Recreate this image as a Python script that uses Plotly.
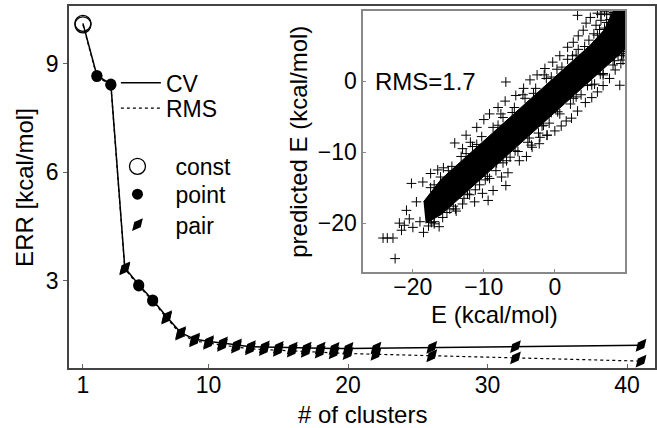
import plotly.graph_objects as go

# main panel: error vs number of clusters
clusters = [1, 2, 3, 4, 5, 6, 7, 8, 9, 10, 11, 12, 13, 14, 15, 16, 17, 18, 19, 20, 22, 26, 32, 41]
kind = ['const', 'point', 'point', 'pair', 'point', 'point'] + ['pair'] * 18
cv = [10.12, 8.68, 8.44, 3.36, 2.89, 2.47, 2.01, 1.57, 1.39, 1.32, 1.28, 1.23,
      1.18, 1.17, 1.16, 1.14, 1.14, 1.14, 1.13, 1.13, 1.14, 1.16, 1.18, 1.22]
rms = [10.08, 8.65, 8.41, 3.33, 2.86, 2.44, 1.97, 1.53, 1.34, 1.27, 1.22, 1.17,
       1.12, 1.10, 1.08, 1.06, 1.05, 1.03, 1.01, 0.99, 0.97, 0.93, 0.87, 0.78]

# inset: predicted vs reference energies (outline of the dense core + scattered points)
core_x = [-18.5, -16.0, -13.0, -10.0, -7.0, -4.0, -1.0, 2.0, 5.0, 7.0, 8.2, 9.9,
          9.9, 8.0, 5.0, 2.0, -1.0, -4.0, -7.0, -10.0, -13.0, -16.0, -18.2]
core_y = [-17.0, -13.8, -11.1, -8.4, -5.7, -3.0, -0.3, 2.4, 5.1, 7.3, 9.9, 9.9,
          4.5, 2.8, 0.1, -2.6, -5.3, -8.0, -10.7, -13.4, -16.1, -18.8, -20.0]
e_ref = [-24.2, -23.6, -22.8, -22.5, -21.6, -21.2, -20.9, -20.5, -21.9, -20.2, -19.5, -20.0,
         -19.0, -18.5, -17.8, -18.6, -17.5, -16.5, -15.7, -14.1, -13.0, -17.0, -16.3, -15.2,
         -14.0, -13.0, -12.0, -11.3, -9.4, -8.7, -6.9, -6.6, -7.5, -10.2, -12.5, -11.0,
         -10.0, -9.2, -8.0, -6.9, -7.0, -5.5, -4.4, -3.5, -2.5, -1.4, -0.3, 0.7, 1.8, 2.6,
         3.3, 4.0, 4.4, 3.2, 5.0, -5.0, -4.0, -3.2, -2.2, -1.1, 0.0, 0.9, 1.6, 2.35, 3.2,
         4.3, 5.2, 6.0, 6.8, 7.7, 8.5, 9.15, 9.6, 9.3, 8.9, 5.6, 6.8, -0.5, -1.8, 3.0,
         6.0, 7.0, 8.3, 9.6, -1.1, -2.1, -3.3, -6.3, -8.2, -9.2,
         -17.0, -17.4, -16.1, -15.8, -14.5, -14.3, -13.9, -13.2, -12.8, -11.6, -11.2, -11.9,
         -10.3, -9.8, -10.6, -8.7, -8.3, -7.3, -6.8, -7.6, -5.7, -5.2, -4.2, -3.8, -4.5,
         -2.7, -2.3, -1.2, -0.8, -1.5, 0.3, 0.7, 1.8, 2.2, 2.5, 3.3, 3.7, 4.8, 5.2, 5.5,
         6.3, 6.8, 7.8, 8.2, 9.4, 9.6,
         -17.5, -15.0, -12.5, -11.0, -8.0, -6.0, -3.0, -0.5, 1.0, 3.0, 4.2, 6.0, 7.0, 7.3,
         6.5, 7.9, 5.8, 6.5, 7.3, -17.0, -14.8, -12.3, -9.5, -7.3, -5.6, -3.6, -1.6, 0.4,
         2.6, 4.6, 6.4, 8.4, 9.7]
e_pred = [-22.1, -22.1, -22.1, -25.0, -21.0, -20.3, -18.2, -19.4, -20.0, -14.4, -17.0, -20.6,
          -19.8, -21.3, -20.4, -14.2, -13.0, -12.5, -12.2, -8.7, -9.5, -19.8, -20.5, -18.5,
          -18.0, -17.3, -16.0, -17.0, -16.8, -15.4, -14.7, -12.9, -13.5, -15.8, -7.6, -6.5,
          -5.4, -4.6, -3.7, -0.1, -2.8, -2.0, -1.0, 0.2, 0.9, 1.8, 2.7, 3.6, 4.8, 5.5,
          6.4, 7.2, 8.2, 9.3, 9.0, -11.2, -10.6, -9.3, -8.8, -7.6, -7.0, -6.3, -5.6, -5.2, -4.2,
          -3.0, -2.3, -1.5, -0.6, 0.4, 1.6, -0.56, 3.0, 2.5, 3.7, -0.4, 1.1, -4.4, -6.3, -2.2,
          9.6, 9.8, 9.7, 8.8, -7.6, -7.9, -9.0, -10.7, -11.5, -13.7,
          -14.6, -19.9, -13.5, -19.2, -12.0, -17.6, -18.3, -10.6, -16.5, -9.2, -15.3, -8.6,
          -7.8, -13.9, -14.6, -6.5, -12.6, -5.1, -11.2, -4.6, -3.7, -9.9, -2.4, -8.6, -1.9,
          -1.0, -7.3, 0.4, -5.9, 0.9, 1.7, -4.6, 3.1, -3.2, 3.6, 4.5, -1.9, 5.8, -0.5, 6.7,
          7.3, 0.9, 8.7, 2.3, 3.6, 4.2,
          -15.0, -12.6, -10.2, -8.9, -6.2, -4.4, -1.7, 0.6, 2.0, 3.7, 4.9, 6.5, 7.5, 8.3,
          8.6, 9.4, 7.9, 9.4, 9.5, -20.1, -18.0, -15.9, -13.4, -11.5, -9.8, -8.0, -6.2, -4.3,
          -2.4, -0.6, 1.0, 2.9, 3.9]

FONT = 'Liberation Sans, Arial, sans-serif'
styles = {
    'const': dict(symbol='circle-open', size=16, color='black', line=dict(width=1.3, color='black')),
    'point': dict(symbol='circle', size=11, color='black'),
    'pair': dict(symbol='diamond-tall', size=12, angle=40, color='black'),
}

fig = go.Figure()
fig.add_trace(go.Scatter(x=clusters, y=cv, mode='lines', name='CV',
                         line=dict(color='black', width=1.5), legend='legend'))
fig.add_trace(go.Scatter(x=clusters, y=rms, mode='lines', name='RMS',
                         line=dict(color='black', width=1.2, dash='dot'), legend='legend2'))
for i, k in enumerate(['const', 'point', 'pair']):
    xs = [c for c, t in zip(clusters, kind) if t == k]
    ys_cv = [v for v, t in zip(cv, kind) if t == k]
    ys_rms = [v for v, t in zip(rms, kind) if t == k]
    fig.add_trace(go.Scatter(x=xs + xs, y=ys_rms + ys_cv, mode='markers', name=k,
                             marker=styles[k], legend=f'legend{i + 3}', cliponaxis=False))

fig.add_trace(go.Scatter(x=core_x, y=core_y, mode='lines', fill='toself', fillcolor='black',
                         line=dict(color='black', width=1), showlegend=False,
                         xaxis='x2', yaxis='y2'))
fig.add_trace(go.Scatter(x=e_ref, y=e_pred, mode='markers', showlegend=False,
                         marker=dict(symbol='cross-thin', size=7, line=dict(width=1, color='black')),
                         xaxis='x2', yaxis='y2'))

fig.add_annotation(x=-25.6, y=0, xref='x2', yref='y2', text='RMS=1.7', showarrow=False,
                   xanchor='left', yanchor='middle', font=dict(size=24, color='black', family=FONT))
# axis titles placed as annotations for exact positioning
fig.add_annotation(x=0.5, y=-0.128, xref='x domain', yref='y domain', text='# of clusters',
                   showarrow=False, xanchor='center', yanchor='middle', font=dict(size=24))
fig.add_annotation(x=-0.077, y=0.5, xref='x domain', yref='y domain', text='ERR [kcal/mol]',
                   showarrow=False, textangle=-90, xanchor='center', yanchor='middle',
                   font=dict(size=24))
fig.add_annotation(x=0.5, y=-0.162, xref='x2 domain', yref='y2 domain', text='E (kcal/mol)',
                   showarrow=False, xanchor='center', yanchor='middle', font=dict(size=24))
fig.add_annotation(x=-0.248, y=0.5, xref='x2 domain', yref='y2 domain', text='predicted E (kcal/mol)',
                   showarrow=False, textangle=-90, xanchor='center', yanchor='middle',
                   font=dict(size=24))

leg = dict(xanchor='left', yanchor='middle', bgcolor='rgba(0,0,0,0)', font=dict(size=23))
fig.update_layout(
    width=657, height=428,
    margin=dict(l=69, r=2, t=6, b=60),
    paper_bgcolor='white', plot_bgcolor='white',
    font=dict(family=FONT, size=23, color='black'),
    xaxis=dict(range=[0, 42], tickvals=[1, 10, 20, 30, 40], ticks='inside', ticklen=4,
               tickcolor='#666', showgrid=False, zeroline=False, showline=True,
               linecolor='#444', linewidth=1.5, mirror=True, automargin=False,
               ticklabelstandoff=-4),
    yaxis=dict(range=[0.59, 10.6], tickvals=[3, 6, 9], ticks='outside', ticklen=4,
               tickcolor='#666', showgrid=False, zeroline=False, showline=True,
               linecolor='#444', linewidth=1.5, mirror=True, automargin=False),
    xaxis2=dict(domain=[0.502, 0.949], anchor='y2', range=[-27, 9.9], tickvals=[-20, -10, 0],
                ticks='inside', ticklen=3, tickcolor='#888', showgrid=False, zeroline=False,
                showline=True, linecolor='#888', linewidth=1.5, mirror=True, automargin=False,
                ticklabelstandoff=-6),
    yaxis2=dict(domain=[0.265, 0.986], anchor='x2', range=[-26.9, 9.9], tickvals=[-20, -10, 0],
                ticks='inside', ticklen=3, tickcolor='#888', showgrid=False, zeroline=False,
                showline=True, linecolor='#888', linewidth=1.5, mirror=True, automargin=False),
    legend=dict(x=0.080, y=0.788, itemwidth=40, **leg),
    legend2=dict(x=0.080, y=0.718, itemwidth=40, **leg),
    legend3=dict(x=0.052, y=0.557, itemwidth=66, **leg),
    legend4=dict(x=0.052, y=0.480, itemwidth=66, **leg),
    legend5=dict(x=0.052, y=0.396, itemwidth=66, **leg),
)

# the page's default 8px body margin would shift the figure
fig.write_html("out.html", config={'displayModeBar': False},
               post_script="document.body.style.margin='0';")
